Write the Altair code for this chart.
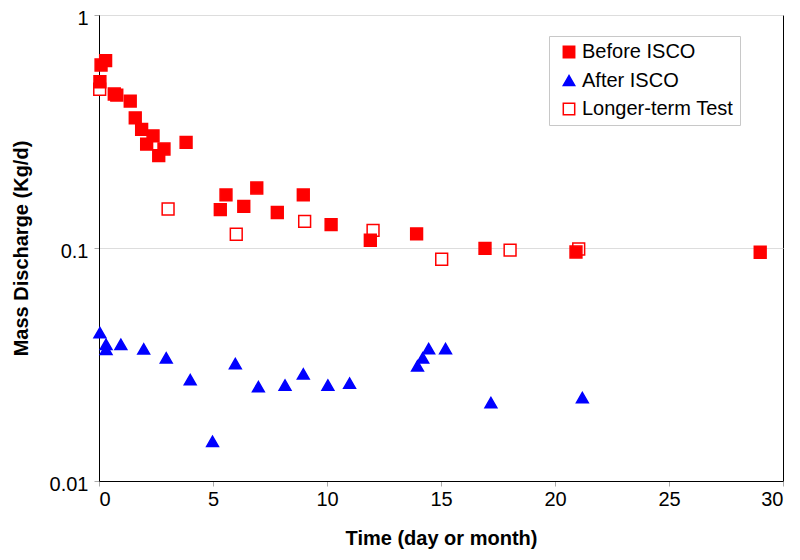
import altair as alt
import pandas as pd

before_x = [0.04, 0.09, 0.29, 0.67, 0.78, 1.37, 1.59, 1.87, 2.37, 2.09, 2.85, 2.62, 3.82,
            5.32, 5.57, 6.35, 6.92, 7.82, 8.96, 10.18, 11.9, 13.93, 16.93, 20.92, 29.0]
before_y = [0.517, 0.610, 0.637, 0.458, 0.453, 0.427, 0.362, 0.323, 0.303, 0.279, 0.266, 0.249, 0.284,
            0.146, 0.169, 0.151, 0.181, 0.142, 0.169, 0.126, 0.108, 0.115, 0.0997, 0.0961, 0.0959]

after_x = [0.04, 0.31, 0.31, 0.96, 1.96, 2.95, 4.0, 4.98, 5.98, 6.99, 8.16, 8.96, 10.04, 10.99,
           13.97, 14.2, 14.46, 15.2, 17.19, 21.2]
after_y = [0.0433, 0.0386, 0.0367, 0.0386, 0.0369, 0.0338, 0.0272, 0.0148, 0.0319, 0.0254, 0.0258,
           0.0288, 0.0258, 0.0263, 0.0312, 0.0338, 0.0370, 0.0370, 0.0217, 0.0228]

longer_x = [0.03, 3.03, 6.02, 9.02, 12.02, 15.03, 18.03, 21.04]
longer_y = [0.480, 0.147, 0.1146, 0.130, 0.119, 0.0895, 0.098, 0.099]

series = ["Before ISCO", "After ISCO", "Longer-term Test"]
draw_order = {"Longer-term Test": 0, "Before ISCO": 1, "After ISCO": 2}

rows = []
for name, xs, ys in [("Before ISCO", before_x, before_y),
                     ("After ISCO", after_x, after_y),
                     ("Longer-term Test", longer_x, longer_y)]:
    for x, y in zip(xs, ys):
        rows.append({"time": x, "mass": y, "series": name, "ord": draw_order[name]})
df = pd.DataFrame(rows)

leg = alt.Legend(
    title=None, orient="none", legendX=450, legendY=21,
    labelFont="Liberation Sans", labelFontSize=20, labelColor="black",
    strokeColor="#c8c8c8", fillColor="white", padding=6,
    rowPadding=8.5, symbolOffset=4, labelOffset=3, symbolSize=130,
    symbolStrokeWidth=1.5,
)

chart = alt.Chart(df).mark_point(opacity=1, fillOpacity=1, strokeWidth=1.5, size=140).encode(
    x=alt.X("time:Q", scale=alt.Scale(domain=[0, 30], nice=False),
            axis=alt.Axis(title="Time (day or month)", values=[0, 5, 10, 15, 20, 25, 30],
                          grid=False, labelPadding=3, titlePadding=19)),
    y=alt.Y("mass:Q", scale=alt.Scale(type="log", domain=[0.01, 1], nice=False),
            axis=alt.Axis(title="Mass Discharge (Kg/d)", values=[0.01, 0.1, 1], format="~g",
                          grid=True, labelPadding=6, labelOffset=3, titlePadding=18)),
    shape=alt.Shape("series:N", sort=series,
                    scale=alt.Scale(domain=series, range=["square", "triangle-up", "square"]),
                    legend=leg),
    fill=alt.Fill("series:N", sort=series,
                  scale=alt.Scale(domain=series, range=["#ff0000", "#0000ff", "#ffffff"]),
                  legend=leg),
    stroke=alt.Stroke("series:N", sort=series,
                      scale=alt.Scale(domain=series, range=["#ff0000", "#0000ff", "#ff0000"]),
                      legend=leg),
    order=alt.Order("ord:Q"),
).properties(
    width=684, height=466,
    autosize=alt.AutoSizeParams(type="none"),
    padding={"left": 91, "top": 7, "right": 9, "bottom": 71},
).configure_view(
    stroke="black", strokeWidth=1
).configure_axis(
    labelFont="Liberation Sans", labelFontSize=20, labelColor="black",
    titleFont="Liberation Sans", titleFontSize=20, titleFontWeight="bold", titleColor="black",
    domainColor="black", domainWidth=1, tickColor="#aaaaaa", tickSize=5,
    gridColor="#dddddd", gridWidth=1,
)

chart.save("out.html", embed_options={"renderer": "svg", "actions": False})
